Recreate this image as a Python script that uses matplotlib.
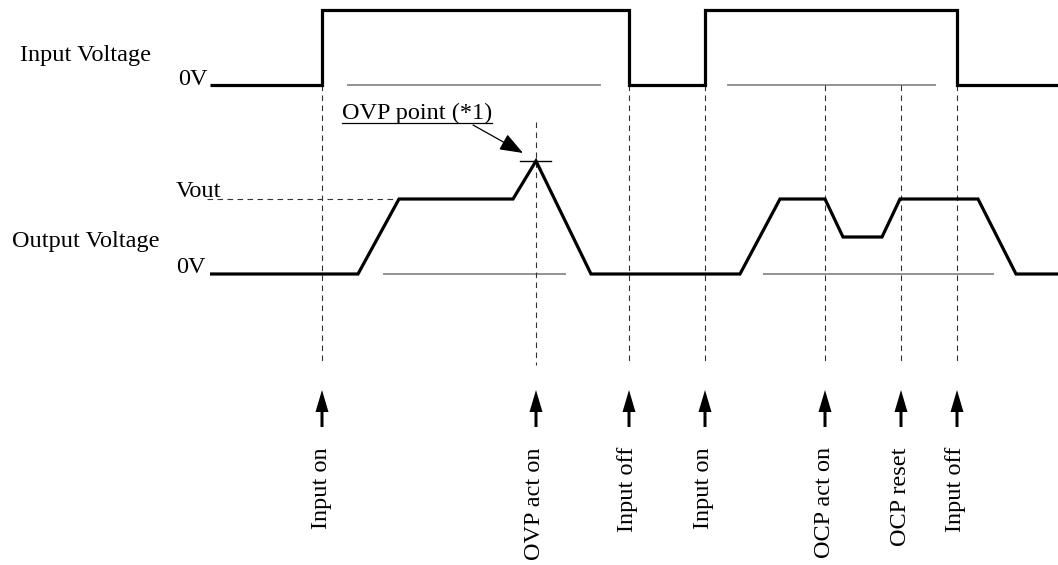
import matplotlib
matplotlib.use("Agg")
import matplotlib.pyplot as plt

# ---- data (drawing units = reference pixels) ----
input_x = [210, 322, 322, 629, 629, 705, 705, 957, 957, 1058]
input_y = [85, 85, 10, 10, 85, 85, 10, 10, 85, 85]

output_x = [210, 358, 399, 513, 536, 591, 740, 780, 825, 843, 882, 900, 978, 1016, 1058]
output_y = [274, 274, 199, 199, 161, 274, 274, 199, 199, 237, 237, 199, 199, 274, 274]

event_x = [322, 536, 629, 705, 825, 901, 957]
event_top = [85, 122, 85, 85, 85, 85, 85]
event_labels = ["Input on", "OVP act on", "Input off", "Input on",
                "OCP act on", "OCP reset", "Input off"]

gray_x0 = [347, 727, 383, 763]
gray_x1 = [601, 936, 566, 994]
gray_y = [85, 85, 274, 274]

level_in_zero = 85
level_out_zero = 274
level_vout = 199
ovp_peak = (536, 161)

FONT = ["Liberation Serif", "DejaVu Serif"]
FS = 17.5

fig = plt.figure(figsize=(10.58, 5.65), dpi=100)
ax = fig.add_axes([0, 0, 1, 1])
ax.set_xlim(0, 1058)
ax.set_ylim(565, 0)
ax.axis("off")

# gray reference lines
for x0, x1, y in zip(gray_x0, gray_x1, gray_y):
    ax.plot([x0, x1], [y, y], color="#808080", lw=1.2, solid_capstyle="butt")

# dashed event lines
for x, top in zip(event_x, event_top):
    ax.plot([x, x], [top, 365], color="#333333", lw=0.8, ls=(0, (5, 4)))

# Vout dashed level
ax.plot([207, output_x[2]], [level_vout, level_vout], color="#333333", lw=0.8, ls=(0, (5, 4)))

# waveforms
ax.plot(input_x, input_y, color="black", lw=2.3, solid_joinstyle="miter", solid_capstyle="butt")
ax.plot(output_x, output_y, color="black", lw=2.3, solid_joinstyle="miter", solid_capstyle="butt")

# OVP peak marker
ax.plot([ovp_peak[0] - 16, ovp_peak[0] + 15], [ovp_peak[1], ovp_peak[1]], color="black", lw=1.0)

# side labels
ax.text(20, 55, "Input Voltage", family=FONT, fontsize=FS, ha="left", va="center")
ax.text(208, level_in_zero, "0V", family=FONT, fontsize=FS, ha="right", va="baseline")
ax.text(12, 242, "Output Voltage", family=FONT, fontsize=FS, ha="left", va="center")
ax.text(206, level_out_zero - 1, "0V", family=FONT, fontsize=FS, ha="right", va="baseline")
ax.text(221, level_vout - 2, "Vout", family=FONT, fontsize=FS, ha="right", va="baseline")

# OVP point annotation (underlined)
t = ax.text(342, 119, "OVP point (*1)", family=FONT, fontsize=FS, ha="left", va="baseline")
fig.canvas.draw()
bb = t.get_window_extent().transformed(ax.transData.inverted())
ax.plot([bb.x0, bb.x1], [123, 123], color="black", lw=0.9)
ax.annotate("", xy=(523, 153), xytext=(473, 125),
            arrowprops=dict(arrowstyle="-|>,head_length=1.2,head_width=0.45",
                            mutation_scale=12, color="black", lw=0.9,
                            shrinkA=0, shrinkB=0))

# event arrows and labels
for x, lab in zip(event_x, event_labels):
    ax.arrow(x, 427, 0, -37, width=3, head_width=13, head_length=22,
             length_includes_head=True, color="black", lw=0)
    ax.text(x - 1, 447, lab, family=FONT, fontsize=FS, rotation=90,
            ha="center", va="top")

fig.savefig("out.png", dpi=100)
